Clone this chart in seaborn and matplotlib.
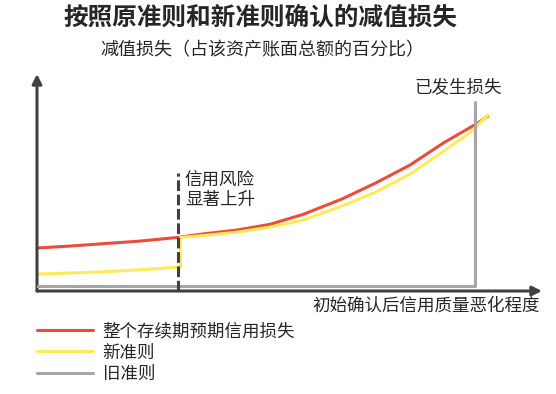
import numpy as np
import pandas as pd
import seaborn as sns
import matplotlib.pyplot as plt

# values (x: deterioration 0-100, y: loss 0-100)
lifetime_x = [0, 6.5, 12.5, 20.4, 27.9, 32.9, 39.6, 46.1, 52.7, 60.4, 67.1, 73.9, 80.6, 87.3, 89.3]
lifetime_y = [19.8, 20.7, 21.7, 23.0, 24.7, 26.3, 28.1, 30.7, 35.3, 42.4, 49.8, 58.1, 68.4, 77.4, 80.6]

new_x = [0, 12.5, 20.4, 28.4, 28.4, 32.9, 39.6, 46.1, 52.7, 60.4, 67.1, 73.9, 80.6, 85.9, 89.3]
new_y = [7.8, 8.8, 9.7, 11.1, 24.7, 25.5, 27.1, 29.4, 32.7, 39.2, 45.6, 53.9, 64.5, 73.3, 81.1]

old_x = [0, 86.7, 86.7]
old_y = [2.3, 2.3, 87.0]

sicr_x = 27.9
sicr_top = 54.4

labels = ['整个存续期预期信用损失', '新准则', '旧准则']
colors = ['#EB4C3C', '#FFEB5A', '#A6A6A6']
axis_color = '#404040'

sns.set_style('white')
plt.rcParams['font.family'] = ['Noto Sans CJK SC', 'DejaVu Sans']

fig = plt.figure(figsize=(5.56, 3.94), dpi=100)
ax = fig.add_axes([37 / 556, 103 / 394, 505 / 556, 217 / 394])
ax.set_xlim(0, 100)
ax.set_ylim(0, 100)
ax.axis('off')

lw = 2.2
sns.lineplot(x=lifetime_x, y=lifetime_y, sort=False, estimator=None, color=colors[0], lw=lw, ax=ax, label=labels[0], zorder=2)
sns.lineplot(x=new_x, y=new_y, sort=False, estimator=None, color=colors[1], lw=lw, ax=ax, label=labels[1], zorder=3)
sns.lineplot(x=old_x, y=old_y, sort=False, estimator=None, color=colors[2], lw=lw, ax=ax, label=labels[2], zorder=4)
ax.plot([sicr_x, sicr_x], [0, sicr_top], color=axis_color, lw=2.2, dashes=(3.5, 1.2), zorder=5, clip_on=False)
ax.get_legend().remove()

# axes with arrows
ax.annotate('', xy=(1, 0), xytext=(0, 0), xycoords='axes fraction',
            arrowprops=dict(arrowstyle='-|>', color=axis_color, lw=2.2, mutation_scale=14, shrinkA=0, shrinkB=0))
ax.annotate('', xy=(0, 1), xytext=(0, 0), xycoords='axes fraction',
            arrowprops=dict(arrowstyle='-|>', color=axis_color, lw=2.2, mutation_scale=14, shrinkA=0, shrinkB=0))

fs = 12.6
ax.text(sicr_x + 1.4, sicr_top + 0.5, '信用风险\n显著上升', fontsize=fs, va='top', ha='left', linespacing=1.1)
fig.text(458 / 556, 1 - 87 / 394, '已发生损失', fontsize=fs, ha='center', va='center')
fig.text(540 / 556, 1 - 306 / 394, '初始确认后信用质量恶化程度', fontsize=fs, ha='right', va='center')
fig.text(260 / 556, 1 - 17.5 / 394, '按照原准则和新准则确认的减值损失', fontsize=17.7, fontweight='bold', ha='center', va='center')
fig.text(262 / 556, 1 - 50 / 394, '减值损失（占该资产账面总额的百分比）', fontsize=13, ha='center', va='center')

fig.legend(ax.lines[:3], labels, loc='upper left', bbox_to_anchor=(37 / 556, 1 - 322 / 394),
           frameon=False, fontsize=fs, handlelength=3.2, handletextpad=0.55,
           labelspacing=0.2, borderpad=0, borderaxespad=0)

fig.savefig('out.png', dpi=100)
